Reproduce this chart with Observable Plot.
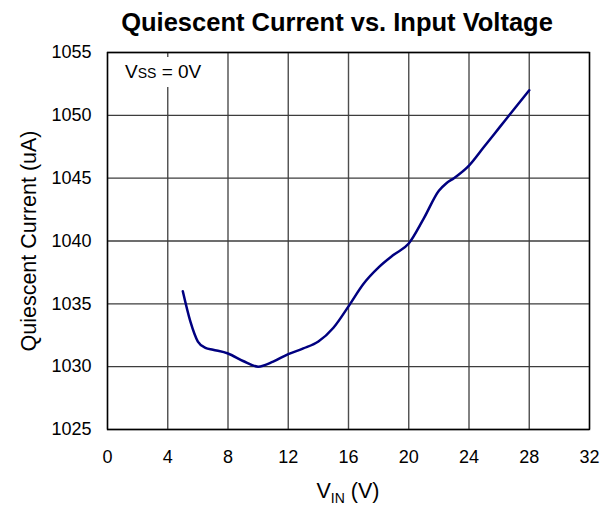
<!DOCTYPE html>
<html>
<head>
<meta charset="utf-8">
<script src="https://cdn.jsdelivr.net/npm/d3@7"></script>
<script src="https://cdn.jsdelivr.net/npm/@observablehq/plot@0.6"></script>
<style>
  html, body { margin: 0; padding: 0; background: #fff; }
  #wrap { position: relative; width: 613px; height: 508px; font-family: "Liberation Sans", Arial, sans-serif; }
  #wrap svg { position: absolute; left: 0; top: 0; }
  .title { position: absolute; left: 0; width: 674px; top: 8px; text-align: center; font-weight: bold; font-size: 25.5px; line-height: 29px; color: #000; }
  .note { position: absolute; left: 119px; top: 57px; width: 100px; height: 30px; background: #fff; font-size: 19px; line-height: 30px; color: #000; padding-left: 6px; box-sizing: border-box; white-space: nowrap; }
  .xlab { position: absolute; left: 0; width: 696px; top: 479px; text-align: center; font-size: 21.5px; line-height: 24px; color: #000; }
  .xlab sub { font-size: 14px; vertical-align: -5px; }
</style>
</head>
<body>
<div id="wrap">
  <div id="chart"></div>
  <div class="title">Quiescent Current vs. Input Voltage</div>
  <div class="note">V<span style="font-size:14px">SS</span> = 0V</div>
  <div class="xlab">V<sub>IN</sub> (V)</div>
</div>
<script>
const vin = [5, 5.5, 6, 6.5, 7, 8, 9, 10, 11, 12, 13, 14, 15, 16, 17, 18, 19, 20, 21, 22, 22.5, 23, 24, 25, 26, 27, 28];
const iq  = [1036, 1033.6, 1032.0, 1031.5, 1031.35, 1031.05, 1030.45, 1030.0, 1030.4, 1031.0, 1031.45, 1032.0, 1033.1, 1034.8, 1036.6, 1037.9, 1038.9, 1039.8, 1041.8, 1044.0, 1044.6, 1045.0, 1046.0, 1047.5, 1049.0, 1050.5, 1052.0];
const xTicks = [0, 4, 8, 12, 16, 20, 24, 28, 32];
const yTicks = [1025, 1030, 1035, 1040, 1045, 1050, 1055];
const yLabel = "Quiescent Current (uA)";

const data = vin.map((v, i) => ({vin: v, iq: iq[i]}));

const chart = Plot.plot({
  width: 613,
  height: 508,
  marginTop: 52,
  marginLeft: 107,
  marginRight: 24,
  marginBottom: 79,
  style: {fontFamily: "Liberation Sans, Arial, sans-serif", color: "#000", background: "#fff"},
  x: {domain: [0, 32]},
  y: {domain: [1025, 1055]},
  marks: [
    Plot.ruleX(xTicks, {stroke: "#4d4d4d", strokeWidth: 1.4, strokeOpacity: 1}),
    Plot.ruleY(yTicks, {stroke: "#3d3d3d", strokeWidth: 1.4, strokeOpacity: 1}),
    Plot.frame({stroke: "#000", strokeWidth: 1.4}),
    Plot.axisX({ticks: xTicks, tickSize: 0, tickPadding: 21, fontSize: 18, label: null, tickFormat: d => String(d)}),
    Plot.axisY({ticks: yTicks, tickSize: 0, tickPadding: 16, fontSize: 18, label: null, tickFormat: d => String(d)}),
    Plot.text([yLabel], {frameAnchor: "left", textAnchor: "middle", rotate: -90, dx: -78, fontSize: 21.5, fill: "#000"}),
    Plot.line(data, {x: "vin", y: "iq", stroke: "#000080", strokeWidth: 2.5, curve: "monotone-x"})
  ]
});
document.getElementById("chart").appendChild(chart);
</script>
</body>
</html>
